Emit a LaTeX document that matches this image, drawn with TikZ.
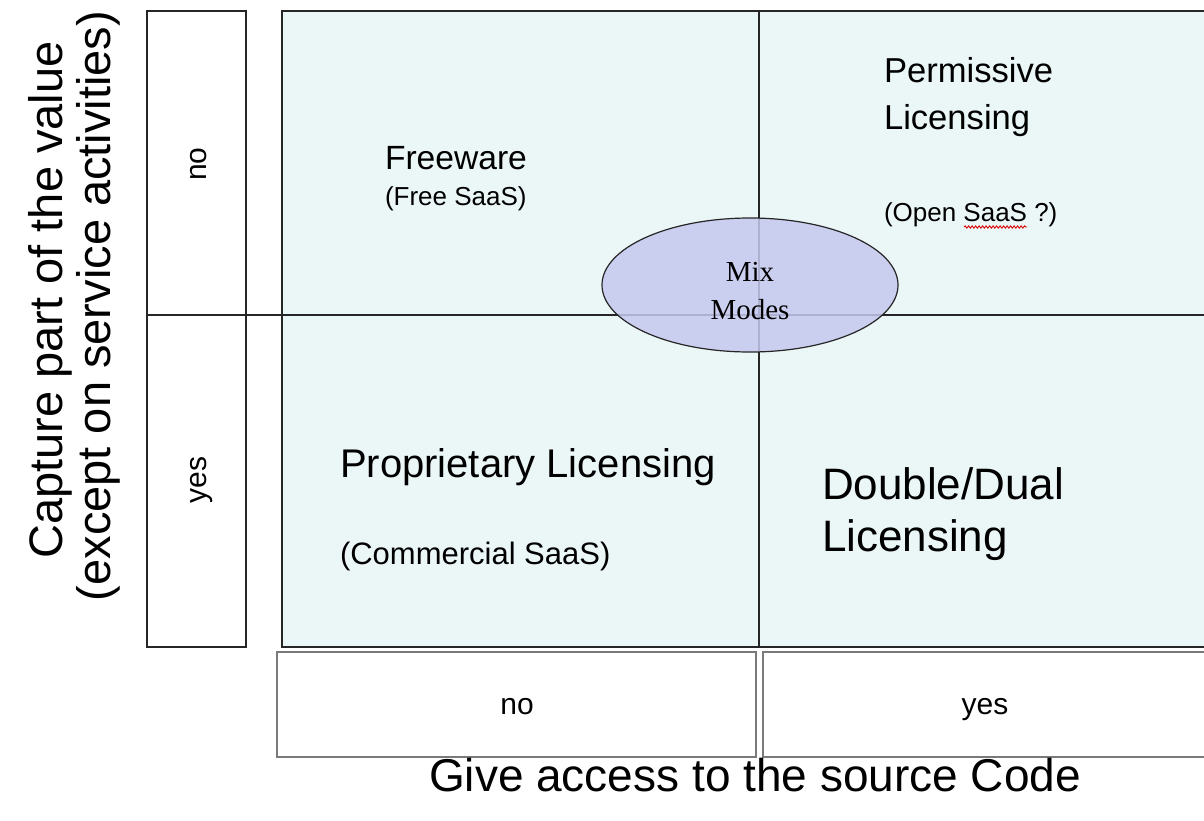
\documentclass[tikz,border=0pt]{standalone}
\usepackage{fontspec}
\setmainfont{Liberation Sans}
\newfontfamily\mixserif{Liberation Serif}
\usetikzlibrary{shapes.geometric,decorations.pathmorphing}
\definecolor{cellfill}{HTML}{EBF6F7}
\definecolor{mixfill}{HTML}{C6C9EE}
\definecolor{boxgray}{HTML}{7A7A7A}
\newcommand{\fsz}[1]{\fontsize{#1}{#1}\selectfont}
\begin{document}
\begin{tikzpicture}[x=1pt,y=-1pt,
  lbl/.style={inner sep=0pt, outer sep=0pt, text=black},
  axislbl/.style={lbl, font=\fsz{47}},
  title/.style={lbl, anchor=base west},
  gridline/.style={draw=black!85, line width=1.3pt},
  lowbox/.style={draw=boxgray, line width=2pt},
  sidebox/.style={draw=black!85, line width=1.5pt, fill=white}]
\useasboundingbox (0,0) rectangle (1204,820);
\fill[white] (0,0) rectangle (1204,820);
% side box (rows)
\draw[sidebox] (147,11) rectangle (246,647);
% main area
\draw[draw=black!85, line width=1.5pt, fill=cellfill] (282,11) rectangle (1220,647);
% dividers
\draw[gridline] (147,315) -- (1220,315);
\draw[draw=black!85, line width=2.2pt] (147,315) -- (246,315);
\draw[gridline] (759,11) -- (759,647);
% bottom boxes (columns)
\draw[lowbox] (277,652) rectangle (756,757);
\draw[lowbox] (763,652) rectangle (1220,757);
% ellipse
\node[ellipse, draw=black!85, line width=1.2pt, fill=mixfill, fill opacity=0.85,
      minimum width=296pt, minimum height=134pt, inner sep=0pt] (mix) at (750,285) {};
\node[lbl, anchor=base, font=\mixserif\fsz{29}] (mixA) at (750,281) {Mix};
\node[lbl, anchor=base, font=\mixserif\fsz{29}] (mixB) at (750,319) {Modes};
% row labels
\node[lbl, anchor=base, rotate=90, font=\fsz{30}] (rowno) at (206,164) {no};
\node[lbl, anchor=base, rotate=90, font=\fsz{30}] (rowyes) at (206,480) {yes};
% column labels
\node[lbl, anchor=base, font=\fsz{30}] (colno) at (517,714) {no};
\node[lbl, anchor=base, font=\fsz{30}] (colyes) at (985,714) {yes};
% axis labels
\node[axislbl, anchor=base, rotate=90] (yaxisA) at (62,300) {Capture part of the value};
\node[axislbl, anchor=base, rotate=90] (yaxisB) at (110,306) {(except on service activities)};
\node[lbl, anchor=base, font=\fsz{46}] (xaxis) at (755,791) {Give access to the source Code};
% quadrant texts
\node[title, font=\fsz{33.6}] (fw) at (385,169) {Freeware};
\node[title, font=\fsz{26}] (fws) at (385,205) {(Free SaaS)};
\node[title, font=\fsz{34.6}] (permA) at (884,82) {Permissive};
\node[title, font=\fsz{34.6}] (permB) at (884,129) {Licensing};
\node[title, font=\fsz{26}] (perms) at (884,221) {(Open SaaS ?)};
\coordinate (sqA) at (964,227);
\coordinate (sqB) at (1027,227);
\draw[red!85!black, line width=0.9pt, decorate, decoration={snake, segment length=3.5pt, amplitude=1.1pt}] (sqA) -- (sqB);
\node[title, font=\fsz{40}] (prop) at (340,477) {Proprietary Licensing};
\node[title, font=\fsz{31}] (props) at (340,564) {(Commercial SaaS)};
\node[title, font=\fsz{44}] (dualA) at (822,499) {Double/Dual};
\node[title, font=\fsz{44}] (dualB) at (822,551) {Licensing};
\end{tikzpicture}
\end{document}
